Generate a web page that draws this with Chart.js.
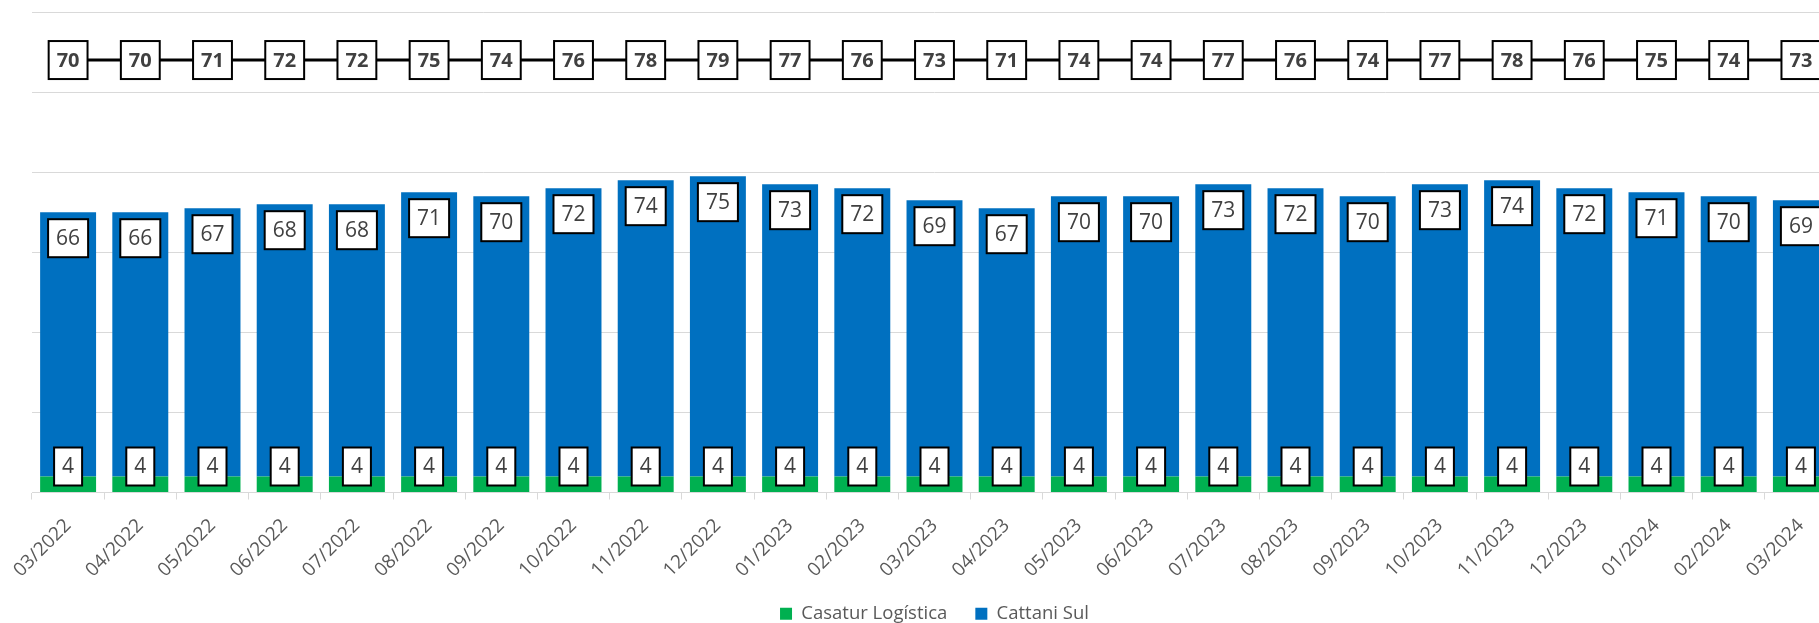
<!DOCTYPE html>
<html>
<head>
<meta charset="utf-8">
<script src="https://cdn.jsdelivr.net/npm/chart.js@4"></script>
<style>
  html, body { margin: 0; padding: 0; background: #fff; overflow: hidden; }
  #wrap { width: 1860px; height: 633px; }
</style>
</head>
<body>
<div id="wrap"><canvas id="volume-chart" width="1860" height="633"></canvas></div>
<script>
const months = ['03/2022','04/2022','05/2022','06/2022','07/2022','08/2022','09/2022','10/2022','11/2022','12/2022',
  '01/2023','02/2023','03/2023','04/2023','05/2023','06/2023','07/2023','08/2023','09/2023','10/2023','11/2023','12/2023',
  '01/2024','02/2024','03/2024'];
const casatur = [4,4,4,4,4,4,4,4,4,4,4,4,4,4,4,4,4,4,4,4,4,4,4,4,4];
const cattani = [66,66,67,68,68,71,70,72,74,75,73,72,69,67,70,70,73,72,70,73,74,72,71,70,69];
const totals = [70,70,71,72,72,75,74,76,78,79,77,76,73,71,74,74,77,76,74,77,78,76,75,74,73];
// the total line sits flat above the bars, the labels carry the values
const totalRow = [108,108,108,108,108,108,108,108,108,108,108,108,108,108,108,108,108,108,108,108,108,108,108,108,108];

const textColor = '#404040';
const gridColor = '#d9d9d9';

function drawBox(ctx, text, cx, cy, w, h, font)
{
    ctx.fillStyle = '#ffffff';
    ctx.fillRect(cx - w / 2, cy - h / 2, w, h);
    ctx.lineWidth = 2;
    ctx.strokeStyle = '#000000';
    ctx.strokeRect(cx - w / 2, cy - h / 2, w, h);
    ctx.font = font;
    ctx.fillStyle = textColor;
    ctx.textAlign = 'center';
    ctx.textBaseline = 'middle';
    ctx.fillText(text, cx, cy + 1);
}

const boxLabels = {
    id: 'boxLabels',
    afterDatasetsDraw(chart) {
        const ctx = chart.ctx;
        ctx.save();
        const barFont = '21px "Open Sans"';
        const lineFont = 'bold 20px "Open Sans"';

        chart.getDatasetMeta(0).data.forEach((el, i) => {
            const t = String(casatur[i]);
            ctx.font = barFont;
            const w = ctx.measureText(t).width + 16;
            drawBox(ctx, t, el.x, el.base - 25.5, w, 38, barFont);
        });
        chart.getDatasetMeta(1).data.forEach((el, i) => {
            const t = String(cattani[i]);
            ctx.font = barFont;
            const w = ctx.measureText(t).width + 16;
            drawBox(ctx, t, el.x, el.y + 26, w, 38, barFont);
        });
        chart.getDatasetMeta(2).data.forEach((el, i) => {
            const t = String(totals[i]);
            ctx.font = lineFont;
            const w = ctx.measureText(t).width + 16;
            drawBox(ctx, t, el.x, el.y, w, 38, lineFont);
        });
        ctx.restore();
    }
};

new Chart(document.getElementById('volume-chart'), {
    data: {
        labels: months,
        datasets: [
            {
                type: 'bar',
                label: 'Casatur Logística',
                data: casatur,
                backgroundColor: '#00B050',
                stack: 'bars',
                order: 1
            },
            {
                type: 'bar',
                label: 'Cattani Sul',
                data: cattani,
                backgroundColor: '#0070C0',
                stack: 'bars',
                order: 1
            },
            {
                type: 'line',
                label: 'Total',
                data: totalRow,
                borderColor: '#000000',
                borderWidth: 3,
                pointRadius: 0,
                tension: 0,
                stack: 'line',
                order: 0
            }
        ]
    },
    options: {
        responsive: false,
        animation: false,
        devicePixelRatio: 1,
        layout: {
            padding: { left: 32, right: 23, top: 12, bottom: 0 }
        },
        datasets: {
            bar: { categoryPercentage: 1, barPercentage: 0.775 }
        },
        plugins: {
            legend: {
                position: 'bottom',
                labels: {
                    boxWidth: 12,
                    boxHeight: 12,
                    padding: 28,
                    color: '#595959',
                    font: { family: 'Open Sans', size: 18.5 },
                    filter: (item) => item.datasetIndex < 2
                }
            },
            tooltip: { enabled: false }
        },
        scales: {
            x: {
                stacked: true,
                grid: {
                    display: true,
                    drawOnChartArea: false,
                    drawTicks: true,
                    tickLength: 7,
                    color: gridColor
                },
                border: { display: true, color: gridColor, width: 1 },
                ticks: {
                    minRotation: 45,
                    maxRotation: 45,
                    padding: 15,
                    color: '#595959',
                    font: { family: 'Open Sans', size: 19 }
                },
                afterFit: (scale) => {
                    scale.height = 84;
                    scale.paddingLeft = 0;
                    scale.paddingRight = 0;
                }
            },
            y: {
                stacked: true,
                min: 0,
                max: 120,
                ticks: { display: false, stepSize: 20 },
                grid: { color: gridColor, drawTicks: false },
                border: { display: false },
                afterFit: (scale) => { scale.width = 0; }
            }
        }
    },
    plugins: [boxLabels]
});
</script>
</body>
</html>
